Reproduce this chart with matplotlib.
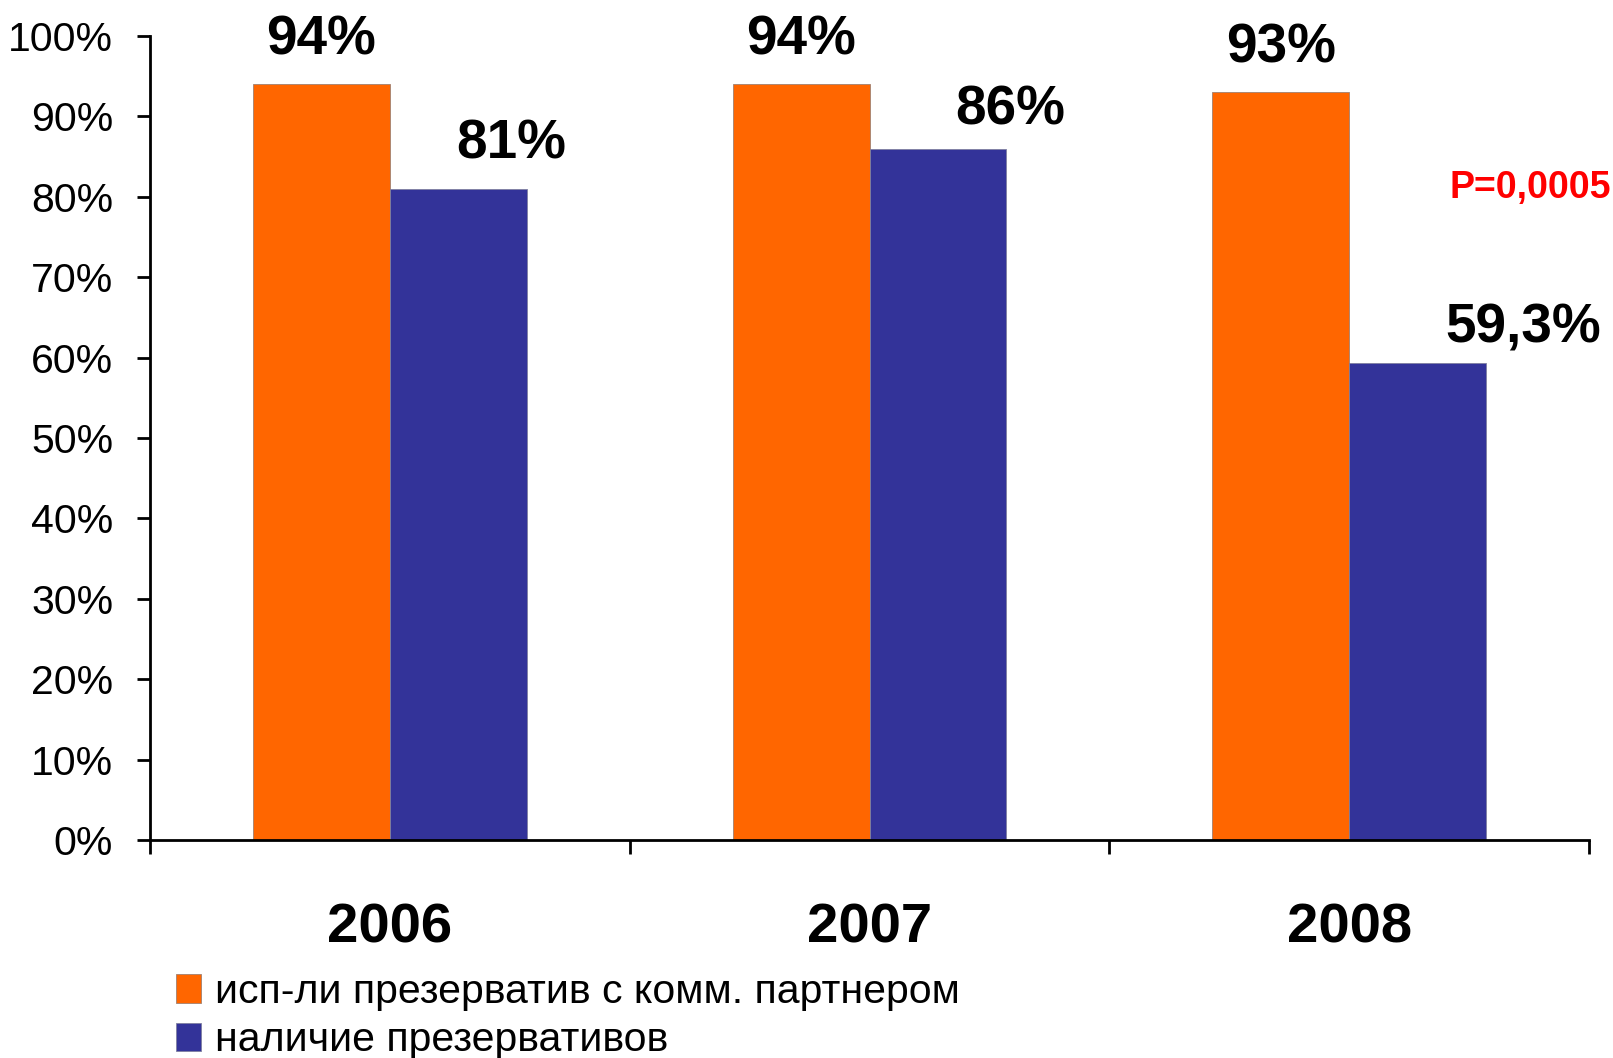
import matplotlib
matplotlib.use("Agg")
import matplotlib.pyplot as plt
import numpy as np
from matplotlib.ticker import FixedLocator, FuncFormatter

years = ["2006", "2007", "2008"]
used_condom = [94, 94, 93]
has_condoms = [81, 86, 59.3]
used_labels = ["94%", "94%", "93%"]
has_labels = ["81%", "86%", "59,3%"]
legend_labels = ["исп-ли презерватив с комм. партнером", "наличие презервативов"]
p_text = "P=0,0005"

plt.rcParams['font.family'] = ['Liberation Sans', 'DejaVu Sans']

fig = plt.figure(figsize=(16.13, 10.58), dpi=100)
ax = fig.add_axes([150/1613, 1-840/1058, (1589-150)/1613, (840-36)/1058])

x = np.arange(len(years))
w = 0.285
orange = "#FF6600"
blue = "#333399"
b1 = ax.bar(x - w/2, used_condom, w, color=orange, edgecolor="#A08070", linewidth=0.6, label=legend_labels[0])
b2 = ax.bar(x + w/2, has_condoms, w, color=blue, edgecolor="#8080A0", linewidth=0.6, label=legend_labels[1])

ax.set_xlim(-0.5, 2.5)
ax.set_ylim(0, 100)
ax.spines['top'].set_visible(False)
ax.spines['right'].set_visible(False)
for s in ['left', 'bottom']:
    ax.spines[s].set_linewidth(2)

ax.yaxis.set_major_locator(FixedLocator(np.arange(0, 101, 10)))
ax.yaxis.set_major_formatter(FuncFormatter(lambda v, p: f"{int(v)}%"))
ax.tick_params(axis='y', length=9.5, width=2, pad=17, labelsize=29.5)

ax.set_xticks(x)
ax.set_xticklabels(years, fontsize=40.5, fontweight='bold')
ax.tick_params(axis='x', which='major', length=0, pad=45)
ax.set_xticks([-0.5, 0.5, 1.5, 2.5], minor=True)
ax.tick_params(axis='x', which='minor', length=10, width=2)

# value labels
for xi, v, t in zip(x, used_condom, used_labels):
    ax.annotate(t, (xi - w/2, v), xytext=(0, 13), textcoords='offset points',
                ha='center', va='bottom', fontsize=39.5, fontweight='bold')
has_dx = [0.11, 0.15, 0.22]
has_dy = [13, 9, 6]
for xi, v, t, dx, dy in zip(x, has_condoms, has_labels, has_dx, has_dy):
    ax.annotate(t, (xi + w/2 + dx, v), xytext=(0, dy), textcoords='offset points',
                ha='center', va='bottom', fontsize=39.5, fontweight='bold')

fig.text(1450/1613, 1-188/1058, p_text, color='red', fontsize=27, fontweight='bold',
         ha='left', va='center')

fig.legend(handles=[b1, b2], labels=legend_labels, loc='upper left',
           bbox_to_anchor=(176/1613, 1-973/1058), frameon=False, fontsize=29.5,
           handlelength=0.62, handleheight=0.7, handletextpad=0.33,
           labelspacing=0.25, borderpad=0, borderaxespad=0)

fig.savefig("out.png", dpi=100)
